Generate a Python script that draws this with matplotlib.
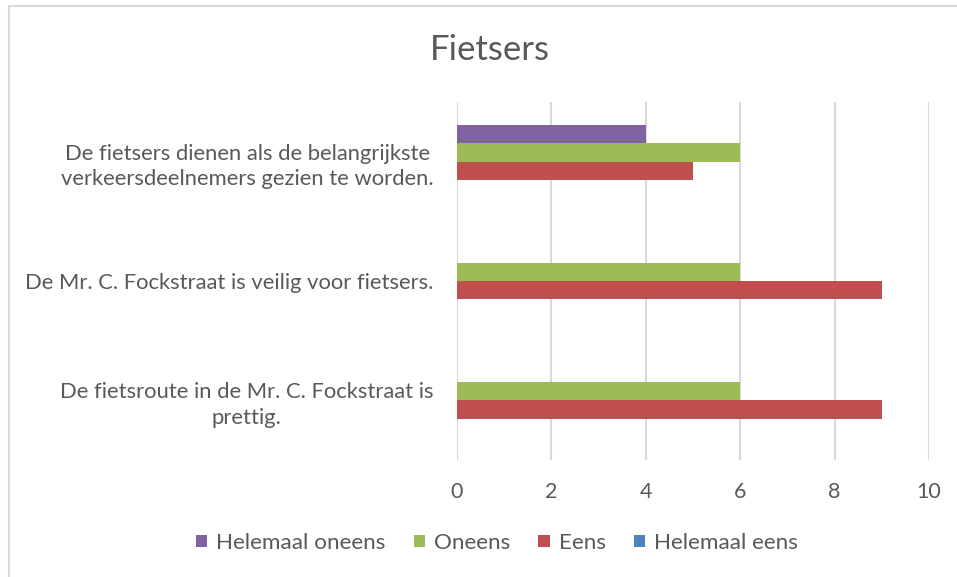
import matplotlib.pyplot as plt
import numpy as np
from matplotlib.patches import Rectangle

categories = [
    'De fietsers dienen als de belangrijkste\nverkeersdeelnemers gezien te worden.',
    'De Mr. C. Fockstraat is veilig voor fietsers.',
    'De fietsroute in de Mr. C. Fockstraat is\nprettig.',
]
series = ['Helemaal oneens', 'Oneens', 'Eens', 'Helemaal eens']
values = {
    'Helemaal oneens': [4, 0, 0],
    'Oneens': [6, 6, 6],
    'Eens': [5, 9, 9],
    'Helemaal eens': [0, 0, 0],
}
colors = ['#8064A2', '#9BBB59', '#C0504D', '#4F81BD']
xticks = [0, 2, 4, 6, 8, 10]

plt.rcParams['font.family'] = ['Lato', 'DejaVu Sans']
text_color = '#595959'
grid_color = '#D9D9D9'

W, H = 957, 577
fig = plt.figure(figsize=(W / 100, H / 100), dpi=100)

# chart frame (left/top edges visible only)
fig.patches.append(Rectangle((8.5 / W, -0.05), 1.1, (H - 5.5) / H + 0.05,
                             transform=fig.transFigure, fill=False,
                             edgecolor=grid_color, linewidth=1.5))

ax = fig.add_axes([457 / W, (H - 460) / H, (929 - 457) / W, (460 - 102) / H])

y = np.arange(len(categories))
h = 0.155
offsets = [-1.5 * h, -0.5 * h, 0.5 * h, 1.5 * h]
for s, c, off in zip(series, colors, offsets):
    ax.barh(y + off, values[s], height=h, color=c, label=s, zorder=3)

ax.set_xlim(0, 10)
ax.set_ylim(2.5, -0.5)
ax.set_xticks(xticks)
ax.set_yticks(y)
ax.set_yticklabels(categories, ha='right', multialignment='center',
                   linespacing=1.36)
ax.tick_params(axis='y', length=0, pad=17, labelsize=15.8)
ax.tick_params(axis='x', length=0, pad=16, labelsize=15.5)
ax.tick_params(colors=text_color)

ax.grid(axis='x', color=grid_color, linewidth=1.5, zorder=0)
for sp in ax.spines.values():
    sp.set_visible(False)

fig.text(490 / W, 1 - 50 / H, 'Fietsers', ha='center', va='center',
         fontsize=25, color=text_color)

handles, labels = ax.get_legend_handles_labels()
fig.legend(handles, labels, loc='center', bbox_to_anchor=(497 / W, 1 - 543 / H),
           ncol=4, frameon=False, fontsize=16.2, labelcolor=text_color,
           handlelength=0.5, handleheight=0.5, handletextpad=0.4,
           columnspacing=1.25)

plt.savefig('out.png', dpi=100)
plt.close()
